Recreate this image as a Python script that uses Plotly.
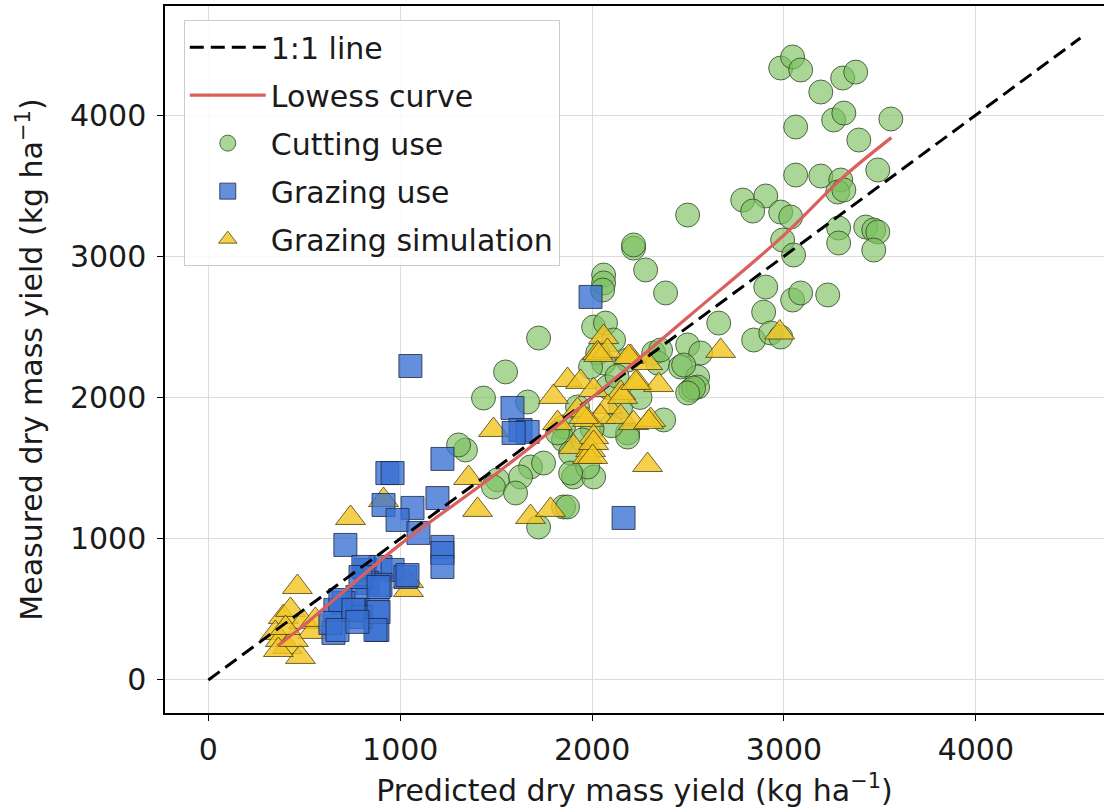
import plotly.graph_objects as go

# ---- data (kg ha-1) ----
cut_x = [2983, 3045, 3087, 3192, 3306, 3374, 3061, 3259, 3312, 3557, 3390, 3061, 3192, 3296, 3280,
         3312, 3489, 2785, 2905, 2837, 2983, 3035, 2498, 3285, 3285, 3426, 3468, 3489, 3468, 2993,
         3050, 2905, 3045, 3087, 3228, 2894, 2660, 2842, 2931, 2983, 2498, 2566,
         2216, 2216, 2279, 2383, 2060, 2060, 2055, 2008, 2070, 2112, 1721, 1549, 1434, 1664, 2029,
         2060, 2185, 2321, 2342, 2461, 2550, 2514, 2550, 2373, 2185, 2149, 1992, 2081, 1924, 1851,
         1851, 1888, 1903, 2008, 1977, 1340, 1304, 1679, 1747, 1507, 1486, 1627, 1601, 1851, 1721,
         2357, 2477, 2529, 2498, 2185, 1872, 1820, 1888, 2130, 2250, 2100, 2000, 1950]
cut_y = [4333, 4411, 4319, 4163, 4262, 4304, 3915, 3965, 4014, 3972, 3823, 3575, 3568, 3540, 3455,
         3469, 3611, 3398, 3427, 3320, 3313, 3278, 3292, 3200, 3094, 3207, 3186, 3172, 3044, 3115,
         3009, 2782, 2690, 2740, 2726, 2605, 2527, 2407, 2457, 2428, 2372, 2315,
         3058, 3080, 2903, 2740, 2867, 2811, 2761, 2499, 2527, 2407, 2421, 2181, 1996, 1968, 2315,
         2244, 2265, 2315, 2244, 2216, 2145, 2053, 2074, 1841, 1749, 1933, 2216, 2074, 1933, 1791,
         1699, 1607, 1437, 1437, 1508, 1628, 1664, 1508, 1536, 1416, 1366, 1437, 1324, 1225, 1083,
         2336, 2230, 2067, 2032, 1720, 1225, 1749, 1465, 2150, 2000, 1800, 1780, 1700]

graze_x = [1053, 1220, 933, 960, 913, 1194, 1064, 986, 714, 1095, 1220, 1220, 1220, 819, 897, 960,
           1027, 829, 897, 777, 704, 767, 662, 652, 881, 881, 793, 636, 808, 1038, 793, 887, 688,
           756, 887, 673, 871, 777, 1992, 1585, 1627, 1664, 2164, 1591]
graze_y = [2223, 1565, 1465, 1465, 1239, 1288, 1218, 1133, 956, 1041, 942, 899, 800, 779, 800, 779,
           729, 687, 673, 588, 545, 496, 496, 333, 354, 496, 446, 404, 800, 743, 729, 658, 566,
           496, 481, 354, 354, 411, 2712, 1926, 1770, 1756, 1147, 1749]

sim_x = [2060, 2029, 2080, 2201, 2289, 1872, 1940, 1799, 2237, 2347, 2149, 2008, 1924, 2081, 2044,
         2149, 1977, 1820, 2216, 2305, 1486, 2008, 1903, 1992, 1977, 2289, 1356, 1403, 1679, 1783,
         2670, 2034, 2190, 2159, 2227, 2295, 1956, 2008, 2003, 2978, 741, 464, 913, 1043, 391, 428,
         495, 542, 349, 375, 412, 480, 365, 443, 558, 1043, 402]
sim_y = [2428, 2315, 2330, 2287, 2244, 2124, 2110, 2004, 2103, 2088, 2032, 2053, 1911, 1933, 1862,
         1862, 1841, 1819, 1819, 1841, 1770, 1720, 1650, 1628, 1579, 1522, 1430, 1204, 1154, 1204,
         2330, 2301, 2287, 2004, 2103, 1826, 1862, 1678, 1579, 2460, 1147, 658, 1274, 637, 446, 496,
         411, 340, 333, 283, 234, 163, 212, 283, 425, 700, 368]

lowess_x = [360, 500, 700, 1000, 1500, 2000, 2500, 3000, 3300, 3560]
lowess_y = [240, 390, 620, 960, 1460, 2000, 2570, 3150, 3550, 3840]

one_x = [0, 4545]
one_y = [0, 4545]

ticks = [0, 1000, 2000, 3000, 4000]

FONT = "DejaVu Sans"
FS = 30
TXT = "#1a1a1a"

fig = go.Figure()

fig.add_trace(go.Scatter(
    x=cut_x, y=cut_y, mode="markers", name="Cutting use", legendgroup="c", legendrank=3,
    marker=dict(symbol="circle", size=24, color="rgba(125,192,95,0.65)",
                line=dict(color="rgba(40,60,30,0.75)", width=1))))
fig.add_trace(go.Scatter(
    x=sim_x, y=sim_y, mode="markers", name="Grazing simulation", legendgroup="s", legendrank=5,
    marker=dict(symbol="triangle-up", size=26, color="rgba(242,198,35,0.82)",
                line=dict(color="rgba(80,65,20,0.8)", width=1))))
fig.add_trace(go.Scatter(
    x=graze_x, y=graze_y, mode="markers", name="Grazing use", legendgroup="g", legendrank=4,
    marker=dict(symbol="square", size=23, color="rgba(55,112,210,0.78)",
                line=dict(color="rgba(30,40,70,0.8)", width=1))))
fig.add_trace(go.Scatter(
    x=one_x, y=one_y, mode="lines", name="1:1 line", legendgroup="o", legendrank=1,
    line=dict(color="black", width=3, dash="14px,7px")))
fig.add_trace(go.Scatter(
    x=lowess_x, y=lowess_y, mode="lines", name="Lowess curve", legendgroup="l", legendrank=2,
    line=dict(color="#d9605e", width=3.2, shape="spline")))

axis_common = dict(
    tickvals=ticks, ticks="outside", ticklen=6, tickwidth=1.3, tickcolor="black",
    showgrid=True, gridcolor="#dcdcdc", gridwidth=1, zeroline=False,
    showline=True, linecolor="black", linewidth=1.5,
    tickfont=dict(family=FONT, size=FS, color=TXT),
)

fig.update_xaxes(range=[-226, 4668], mirror=True, ticklabelstandoff=3,
                 title=dict(text="Predicted dry mass yield (kg ha<sup>−1</sup>)",
                            font=dict(family=FONT, size=FS, color=TXT), standoff=14),
                 **axis_common)
fig.update_yaxes(range=[-234, 4772], mirror=False, ticklabelstandoff=5,
                 title=dict(text="Measured dry mass yield (kg ha<sup>−1</sup>)",
                            font=dict(family=FONT, size=FS, color=TXT), standoff=18),
                 **axis_common)

fig.update_layout(
    width=1104, height=811,
    margin=dict(l=165, r=0, t=6, b=98),
    plot_bgcolor="white", paper_bgcolor="white",
    font=dict(family=FONT, size=FS, color=TXT),
    legend=dict(x=0.02, y=0.98, xanchor="left", yanchor="top",
                bgcolor="rgba(255,255,255,0.85)", bordercolor="#cccccc", borderwidth=1,
                font=dict(family=FONT, size=FS, color=TXT),
                traceorder="grouped", tracegroupgap=6, itemwidth=76),
)

fig.write_html("out.html")
